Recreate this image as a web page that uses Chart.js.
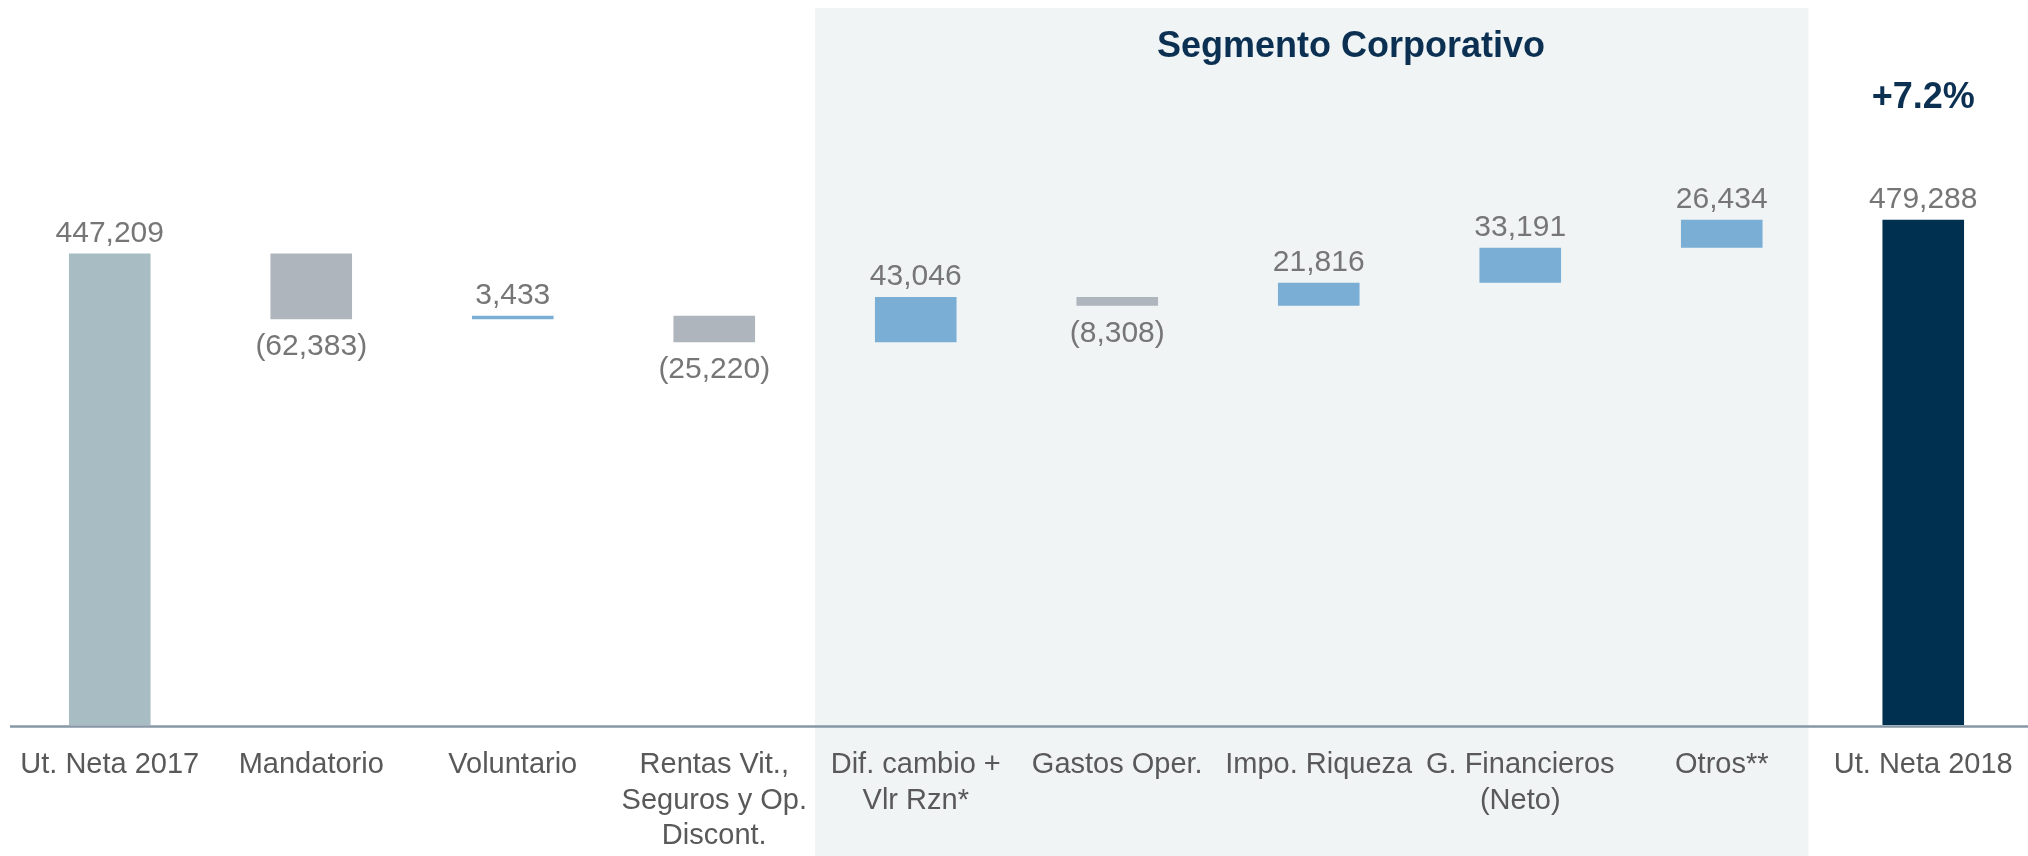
<!DOCTYPE html>
<html>
<head>
<meta charset="utf-8">
<title>Utilidad neta 2017 - 2018</title>
<script src="https://cdn.jsdelivr.net/npm/chart.js@4.4.1/dist/chart.umd.min.js"></script>
<style>
  html, body { margin: 0; padding: 0; background: #ffffff; overflow: hidden; }
  #wrap { width: 2028px; height: 856px; position: relative; }
</style>
</head>
<body>
<div id="wrap"><canvas id="chart" width="2028" height="856"></canvas></div>
<script>
// Waterfall: net income 2017 -> 2018 with the contribution of each item
const categories = [
  'Ut. Neta 2017',
  'Mandatorio',
  'Voluntario',
  ['Rentas Vit.,', 'Seguros y Op.', 'Discont.'],
  ['Dif. cambio +', 'Vlr Rzn*'],
  'Gastos Oper.',
  'Impo. Riqueza',
  ['G. Financieros', '(Neto)'],
  'Otros**',
  'Ut. Neta 2018'
];
const openingTotal = 447209;
const changes = [-62383, 3433, -25220, 43046, -8308, 21816, 33191, 26434];
const closingTotal = 479288;
const growthLabel = '+7.2%';
const segmentTitle = 'Segmento Corporativo';
const segmentFirst = 4;   // first category inside the corporate segment
const segmentLast = 8;    // last category inside the corporate segment
const yMax = 665000;

const FONT = '"Liberation Sans", Arial, Helvetica, sans-serif';
const COLORS = {
  opening: '#a7bcc3',
  closing: '#00304f',
  up: '#7aaed5',
  down: '#aeb5bd',
  shade: '#f0f4f5',
  axis: '#8797a5',
  value: '#767676',
  tick: '#595959',
  heading: '#0b3052'
};

// floating [from, to] ranges built from the running total
const ranges = [];
const shown = [];
const barColors = [];
let running = openingTotal;
ranges.push([0, openingTotal]); shown.push(openingTotal); barColors.push(COLORS.opening);
changes.forEach(d => {
  ranges.push([running, running + d]);
  shown.push(d);
  barColors.push(d < 0 ? COLORS.down : COLORS.up);
  running += d;
});
ranges.push([0, closingTotal]); shown.push(closingTotal); barColors.push(COLORS.closing);

function fmt(v) {
  const s = Math.abs(v).toLocaleString('en-US');
  return v < 0 ? '(' + s + ')' : s;
}

// light panel behind the corporate segment columns, heading texts and base line
const segmentPanel = {
  id: 'segmentPanel',
  beforeDraw(chart) {
    const { ctx, scales: { x } } = chart;
    const step = x.getPixelForValue(1) - x.getPixelForValue(0);
    const left = x.getPixelForValue(segmentFirst) - step / 2;
    const right = x.getPixelForValue(segmentLast) + step * 0.43;
    ctx.save();
    ctx.fillStyle = '#ffffff';
    ctx.fillRect(0, 0, chart.width, chart.height);
    ctx.fillStyle = COLORS.shade;
    ctx.fillRect(left, 8, right - left, chart.height - 8);
    ctx.restore();
  },
  afterDraw(chart) {
    const { ctx, chartArea, scales: { x } } = chart;
    const step = x.getPixelForValue(1) - x.getPixelForValue(0);
    ctx.save();
    // base line across the full width
    ctx.strokeStyle = COLORS.axis;
    ctx.lineWidth = 2.5;
    ctx.beginPath();
    ctx.moveTo(chartArea.left + 1, chartArea.bottom + 1.5);
    ctx.lineTo(chart.width, chartArea.bottom + 1.5);
    ctx.stroke();

    ctx.fillStyle = COLORS.heading;
    ctx.textAlign = 'center';
    ctx.textBaseline = 'alphabetic';
    ctx.font = 'bold 36px ' + FONT;
    const mid = (segmentFirst + segmentLast) / 2;
    ctx.fillText(segmentTitle, x.getPixelForValue(mid) + step * 0.16, 57);
    ctx.font = 'bold 36px ' + FONT;
    ctx.fillText(growthLabel, x.getPixelForValue(categories.length - 1), 108);
    ctx.restore();
  }
};

// value above rising/total bars, in parentheses below falling bars
const valueLabels = {
  id: 'valueLabels',
  afterDatasetsDraw(chart) {
    const ctx = chart.ctx;
    const meta = chart.getDatasetMeta(0);
    ctx.save();
    ctx.font = '30px ' + FONT;
    ctx.fillStyle = COLORS.value;
    ctx.textAlign = 'center';
    ctx.textBaseline = 'alphabetic';
    meta.data.forEach((bar, i) => {
      const top = Math.min(bar.y, bar.base);
      const bottom = Math.max(bar.y, bar.base);
      const v = shown[i];
      if (v < 0) ctx.fillText(fmt(v), bar.x, bottom + 36);
      else ctx.fillText(fmt(v), bar.x, top - 12);
    });
    ctx.restore();
  }
};

new Chart(document.getElementById('chart'), {
  type: 'bar',
  data: {
    labels: categories,
    datasets: [{
      data: ranges,
      backgroundColor: barColors,
      borderWidth: 0,
      categoryPercentage: 0.45,
      barPercentage: 0.9
    }]
  },
  options: {
    responsive: false,
    animation: false,
    layout: { padding: { left: 9, right: 4, top: 24, bottom: 0 } },
    plugins: { legend: { display: false }, tooltip: { enabled: false } },
    scales: {
      x: {
        grid: { display: false, drawTicks: false },
        border: { display: false },
        ticks: {
          color: COLORS.tick,
          font: { family: FONT, size: 29, lineHeight: 1.23 },
          padding: 22,
          autoSkip: false,
          maxRotation: 0,
          minRotation: 0
        },
        afterFit(scale) {
          scale.height = 131;
          scale.paddingLeft = 0;
          scale.paddingRight = 0;
        }
      },
      y: { display: false, min: 0, max: yMax }
    }
  },
  plugins: [segmentPanel, valueLabels]
});
</script>
</body>
</html>
